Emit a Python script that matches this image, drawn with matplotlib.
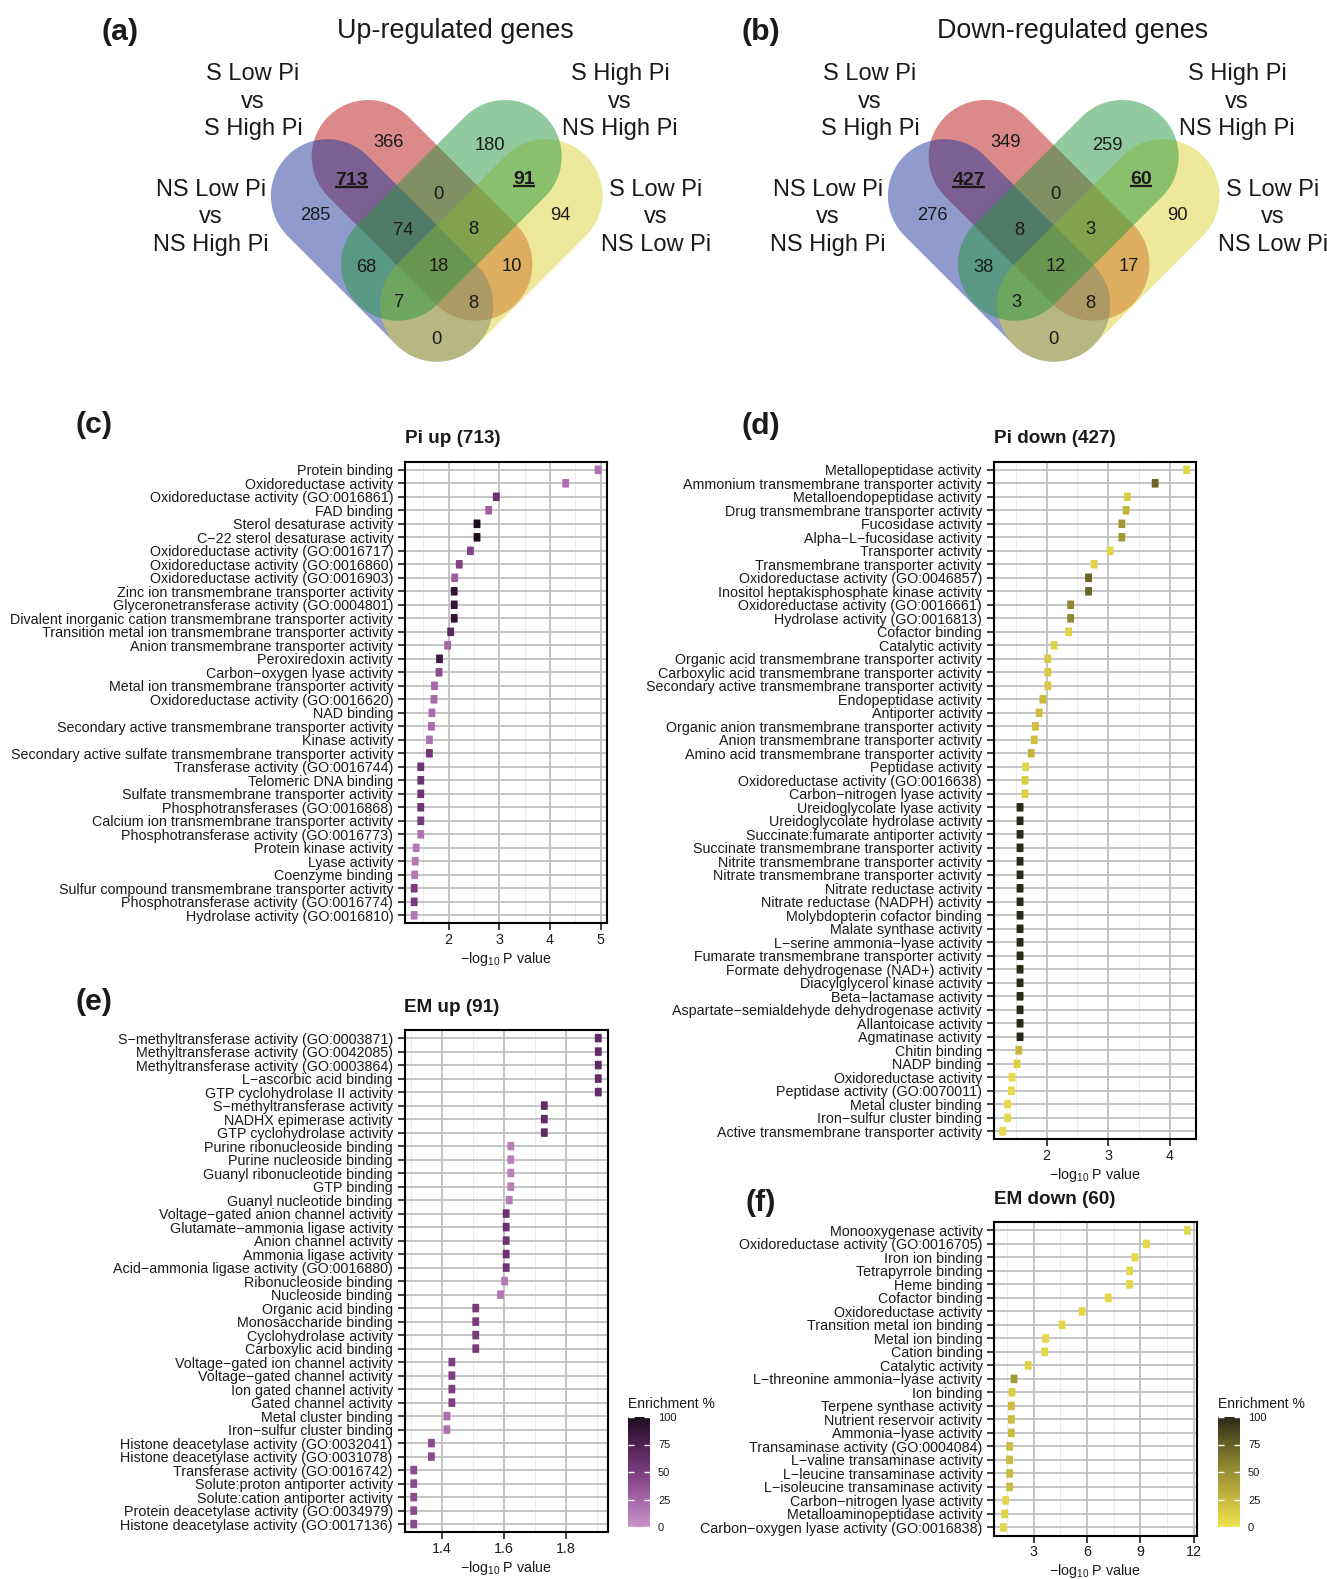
import numpy as np
import matplotlib
matplotlib.use("Agg")
import matplotlib.pyplot as plt
import matplotlib.cm as cm
from matplotlib.colors import LinearSegmentedColormap, Normalize
from matplotlib.patches import Polygon
from matplotlib.path import Path
from matplotlib.ticker import FixedLocator, FormatStrFormatter

plt.rcParams["font.family"] = ["Liberation Sans", "DejaVu Sans"]
plt.rcParams["mathtext.fontset"] = "custom"
plt.rcParams["mathtext.rm"] = "Liberation Sans"
plt.rcParams["mathtext.it"] = "Liberation Sans:italic"
plt.rcParams["mathtext.bf"] = "Liberation Sans:bold"

# ---------------------------------------------------------------- data
# Venn regions: B = NS Low vs NS High, R = S Low vs S High,
#               G = S High vs NS High, Y = S Low vs NS Low
venn_regions = ["R", "G", "B", "Y", "RB", "RG", "GY", "BRG", "RGY",
                "BG", "BRGY", "RY", "BGY", "BRY", "BY"]
venn_up_counts = [366, 180, 285, 94, 713, 0, 91, 74, 8, 68, 18, 10, 7, 8, 0]
venn_down_counts = [349, 259, 276, 90, 427, 0, 60, 8, 3, 38, 12, 17, 3, 8, 0]
venn_highlight = ["RB", "GY"]
set_name_tl = ["S Low Pi", "vs", "S High Pi"]
set_name_tr = ["S High Pi", "vs", "NS High Pi"]
set_name_l = ["NS Low Pi", "vs", "NS High Pi"]
set_name_r = ["S Low Pi", "vs", "NS Low Pi"]

pi_up_terms = [
    "Protein binding", "Oxidoreductase activity",
    "Oxidoreductase activity (GO:0016861)", "FAD binding",
    "Sterol desaturase activity", "C\u221222 sterol desaturase activity",
    "Oxidoreductase activity (GO:0016717)", "Oxidoreductase activity (GO:0016860)",
    "Oxidoreductase activity (GO:0016903)", "Zinc ion transmembrane transporter activity",
    "Glyceronetransferase activity (GO:0004801)",
    "Divalent inorganic cation transmembrane transporter activity",
    "Transition metal ion transmembrane transporter activity",
    "Anion transmembrane transporter activity", "Peroxiredoxin activity",
    "Carbon\u2212oxygen lyase activity", "Metal ion transmembrane transporter activity",
    "Oxidoreductase activity (GO:0016620)", "NAD binding",
    "Secondary active transmembrane transporter activity", "Kinase activity",
    "Secondary active sulfate transmembrane transporter activity",
    "Transferase activity (GO:0016744)", "Telomeric DNA binding",
    "Sulfate transmembrane transporter activity", "Phosphotransferases (GO:0016868)",
    "Calcium ion transmembrane transporter activity",
    "Phosphotransferase activity (GO:0016773)", "Protein kinase activity",
    "Lyase activity", "Coenzyme binding",
    "Sulfur compound transmembrane transporter activity",
    "Phosphotransferase activity (GO:0016774)", "Hydrolase activity (GO:0016810)"]
pi_up_logp = [4.95, 4.31, 2.94, 2.79, 2.56, 2.56, 2.43, 2.21, 2.12, 2.11, 2.11, 2.11,
              2.04, 1.98, 1.82, 1.81, 1.72, 1.71, 1.67, 1.66, 1.62, 1.62, 1.45, 1.45,
              1.45, 1.45, 1.45, 1.45, 1.36, 1.34, 1.33, 1.32, 1.32, 1.32]
pi_up_enrich = [18, 20, 60, 28, 100, 100, 45, 45, 30, 90, 90, 90, 68, 25, 82, 40,
                24, 24, 22, 22, 18, 55, 58, 58, 58, 58, 52, 18, 15, 15, 15, 50, 50, 15]

pi_down_terms = [
    "Metallopeptidase activity", "Ammonium transmembrane transporter activity",
    "Metalloendopeptidase activity", "Drug transmembrane transporter activity",
    "Fucosidase activity", "Alpha\u2212L\u2212fucosidase activity", "Transporter activity",
    "Transmembrane transporter activity", "Oxidoreductase activity (GO:0046857)",
    "Inositol heptakisphosphate kinase activity", "Oxidoreductase activity (GO:0016661)",
    "Hydrolase activity (GO:0016813)", "Cofactor binding", "Catalytic activity",
    "Organic acid transmembrane transporter activity",
    "Carboxylic acid transmembrane transporter activity",
    "Secondary active transmembrane transporter activity", "Endopeptidase activity",
    "Antiporter activity", "Organic anion transmembrane transporter activity",
    "Anion transmembrane transporter activity",
    "Amino acid transmembrane transporter activity", "Peptidase activity",
    "Oxidoreductase activity (GO:0016638)", "Carbon\u2212nitrogen lyase activity",
    "Ureidoglycolate lyase activity", "Ureidoglycolate hydrolase activity",
    "Succinate:fumarate antiporter activity",
    "Succinate transmembrane transporter activity",
    "Nitrite transmembrane transporter activity",
    "Nitrate transmembrane transporter activity", "Nitrate reductase activity",
    "Nitrate reductase (NADPH) activity", "Molybdopterin cofactor binding",
    "Malate synthase activity", "L\u2212serine ammonia\u2212lyase activity",
    "Fumarate transmembrane transporter activity",
    "Formate dehydrogenase (NAD+) activity", "Diacylglycerol kinase activity",
    "Beta\u2212lactamase activity", "Aspartate\u2212semialdehyde dehydrogenase activity",
    "Allantoicase activity", "Agmatinase activity", "Chitin binding", "NADP binding",
    "Oxidoreductase activity", "Peptidase activity (GO:0070011)",
    "Metal cluster binding", "Iron\u2212sulfur cluster binding",
    "Active transmembrane transporter activity"]
pi_down_logp = [4.27, 3.76, 3.31, 3.29, 3.22, 3.22, 3.03, 2.77, 2.68, 2.68, 2.39, 2.39,
                2.36, 2.12, 2.02, 2.02, 2.02, 1.94, 1.88, 1.82, 1.80, 1.75, 1.66, 1.65,
                1.65, 1.57, 1.57, 1.57, 1.57, 1.57, 1.57, 1.57, 1.57, 1.57, 1.57, 1.57,
                1.57, 1.57, 1.57, 1.57, 1.57, 1.57, 1.57, 1.55, 1.52, 1.44, 1.43, 1.37,
                1.37, 1.29]
pi_down_enrich = [8, 72, 12, 28, 45, 45, 8, 10, 72, 72, 55, 55, 10, 10, 15, 15, 15, 24,
                  22, 20, 20, 27, 8, 12, 12, 100, 100, 100, 100, 100, 100, 100, 100, 100,
                  100, 100, 100, 100, 100, 100, 100, 100, 100, 27, 12, 5, 5, 5, 5, 5]

em_up_terms = [
    "S\u2212methyltransferase activity (GO:0003871)",
    "Methyltransferase activity (GO:0042085)", "Methyltransferase activity (GO:0003864)",
    "L\u2212ascorbic acid binding", "GTP cyclohydrolase II activity",
    "S\u2212methyltransferase activity", "NADHX epimerase activity",
    "GTP cyclohydrolase activity", "Purine ribonucleoside binding",
    "Purine nucleoside binding", "Guanyl ribonucleotide binding", "GTP binding",
    "Guanyl nucleotide binding", "Voltage\u2212gated anion channel activity",
    "Glutamate\u2212ammonia ligase activity", "Anion channel activity",
    "Ammonia ligase activity", "Acid\u2212ammonia ligase activity (GO:0016880)",
    "Ribonucleoside binding", "Nucleoside binding", "Organic acid binding",
    "Monosaccharide binding", "Cyclohydrolase activity", "Carboxylic acid binding",
    "Voltage\u2212gated ion channel activity", "Voltage\u2212gated channel activity",
    "Ion gated channel activity", "Gated channel activity", "Metal cluster binding",
    "Iron\u2212sulfur cluster binding", "Histone deacetylase activity (GO:0032041)",
    "Histone deacetylase activity (GO:0031078)", "Transferase activity (GO:0016742)",
    "Solute:proton antiporter activity", "Solute:cation antiporter activity",
    "Protein deacetylase activity (GO:0034979)",
    "Histone deacetylase activity (GO:0017136)"]
em_up_logp = [1.905, 1.905, 1.905, 1.905, 1.905, 1.731, 1.731, 1.731, 1.623, 1.623,
              1.623, 1.623, 1.618, 1.608, 1.608, 1.608, 1.608, 1.608, 1.603, 1.590,
              1.510, 1.510, 1.510, 1.510, 1.433, 1.433, 1.433, 1.433, 1.417, 1.417,
              1.367, 1.367, 1.310, 1.310, 1.310, 1.310, 1.310]
em_up_enrich = [65, 65, 65, 65, 65, 65, 65, 65, 12, 12, 12, 12, 14, 58, 58, 58, 58, 58,
                14, 16, 52, 52, 52, 52, 48, 48, 48, 48, 20, 20, 42, 42, 40, 40, 40, 40, 40]

em_down_terms = [
    "Monooxygenase activity", "Oxidoreductase activity (GO:0016705)",
    "Iron ion binding", "Tetrapyrrole binding", "Heme binding", "Cofactor binding",
    "Oxidoreductase activity", "Transition metal ion binding", "Metal ion binding",
    "Cation binding", "Catalytic activity", "L\u2212threonine ammonia\u2212lyase activity",
    "Ion binding", "Terpene synthase activity", "Nutrient reservoir activity",
    "Ammonia\u2212lyase activity", "Transaminase activity (GO:0004084)",
    "L\u2212valine transaminase activity", "L\u2212leucine transaminase activity",
    "L\u2212isoleucine transaminase activity", "Carbon\u2212nitrogen lyase activity",
    "Metalloaminopeptidase activity", "Carbon\u2212oxygen lyase activity (GO:0016838)"]
em_down_logp = [11.65, 9.35, 8.7, 8.4, 8.4, 7.2, 5.73, 4.6, 3.68, 3.63, 2.7, 1.9, 1.78,
                1.75, 1.75, 1.75, 1.65, 1.65, 1.65, 1.65, 1.43, 1.38, 1.3]
em_down_enrich = [6, 6, 6, 6, 6, 6, 6, 6, 6, 6, 10, 45, 12, 22, 22, 22, 22, 22, 22, 22,
                  8, 8, 8]

# ---------------------------------------------------------------- figure
W, H = 1327, 1579
fig = plt.figure(figsize=(W / 100, H / 100), dpi=100)

page = fig.add_axes([0, 0, 1, 1])
page.set_xlim(0, W)
page.set_ylim(H, 0)
page.axis("off")

TXT = "#1a1a1a"


def capsule(p1, p2, r, n=90):
    p1 = np.asarray(p1, float)
    p2 = np.asarray(p2, float)
    d = p2 - p1
    ang = np.arctan2(d[1], d[0])
    t2 = np.linspace(ang - np.pi / 2, ang + np.pi / 2, n)
    t1 = np.linspace(ang + np.pi / 2, ang + 3 * np.pi / 2, n)
    a2 = p2 + r * np.column_stack([np.cos(t2), np.sin(t2)])
    a1 = p1 + r * np.column_stack([np.cos(t1), np.sin(t1)])
    return np.vstack([a2, a1])


venn_fill = {"R": "#B91515", "B": "#1F399B", "Y": "#DFD337", "G": "#279741"}
cap_r = 56.6
caps = {"B": ((327.5, 195.8), (436.7, 305.0)),
        "R": ((368.3, 156.6), (475.8, 264.1)),
        "G": ((505.1, 156.6), (397.6, 264.1)),
        "Y": ((545.9, 195.8), (436.7, 305.0))}
region_xy = {"R": (388.3, 140.0), "G": (490.0, 143.3), "B": (315.0, 213.3),
             "Y": (560.0, 213.3), "RB": (351.7, 178.3), "RG": (438.3, 192.3),
             "GY": (524.3, 177.7), "BRG": (402.7, 228.3), "RGY": (473.3, 226.7),
             "BG": (366.7, 265.0), "BRGY": (438.3, 264.0), "RY": (511.7, 264.0),
             "BGY": (399.3, 300.0), "BRY": (473.3, 301.0), "BY": (436.7, 336.7)}

renderer = fig.canvas.get_renderer()


def draw_venn(dx, counts, title):
    for key in ["R", "B", "Y", "G"]:
        p1, p2 = caps[key]
        verts = capsule((p1[0] + dx, p1[1]), (p2[0] + dx, p2[1]), cap_r)
        page.add_patch(Polygon(verts, closed=True, facecolor=venn_fill[key],
                               alpha=0.5, edgecolor="none", zorder=1))
    for reg, val in zip(venn_regions, counts):
        x, y = region_xy[reg]
        bold = reg in venn_highlight
        t = page.text(x + dx, y + 6.8, str(val), ha="center", va="baseline",
                      fontsize=14 if bold else 13.2,
                      fontweight="bold" if bold else "normal", color=TXT, zorder=3)
        if bold:
            bb = t.get_window_extent(renderer=renderer)
            inv = page.transData.inverted()
            x0 = inv.transform((bb.x0, bb.y0))[0]
            x1 = inv.transform((bb.x1, bb.y0))[0]
            page.plot([x0, x1], [y + 8.6, y + 8.6], color=TXT, lw=1.6,
                      solid_capstyle="butt", zorder=3)
    groups = [(set_name_tl, 253.0, [80.2, 107.8, 135.4]),
              (set_name_tr, 620.0, [80.2, 107.8, 135.4]),
              (set_name_l, 211.0, [195.8, 223.4, 251.0]),
              (set_name_r, 656.0, [195.8, 223.4, 251.0])]
    for lines, cx, ys in groups:
        for s, yb in zip(lines, ys):
            page.text(cx + dx, yb, s, ha="center", va="baseline", fontsize=17,
                      color=TXT, zorder=3)
    page.text(455.4 + dx, 38.5, title, ha="center", va="baseline", fontsize=19.4,
              color=TXT)


draw_venn(0.0, venn_up_counts, "Up-regulated genes")
draw_venn(617.0, venn_down_counts, "Down-regulated genes")

for letter, (x, y) in {"(a)": (120.0, 31.7), "(b)": (761.0, 31.7),
                       "(c)": (93.7, 425.0), "(d)": (761.0, 426.0),
                       "(e)": (93.7, 1002.5), "(f)": (760.7, 1203.0)}.items():
    page.text(x, y, letter, ha="center", va="center", fontsize=21.7,
              fontweight="bold", color=TXT)

# ---------------------------------------------------------------- GO panels
purple = LinearSegmentedColormap.from_list(
    "enrich_purple", ["#CB95C8", "#A566A8", "#7B3C7F", "#4F2152", "#1F0C20"])
olive = LinearSegmentedColormap.from_list(
    "enrich_olive", ["#EDE24E", "#C7B83F", "#999033", "#676027", "#2B2918"])
norm = Normalize(0, 100)

# slightly tall, softly rounded square marker
_w, _h, _rr = 0.40, 0.5, 0.08
_th = np.linspace(0, np.pi / 2, 6)
_pts = []
for cx, cy, a0 in [(_w - _rr, _h - _rr, 0), (-_w + _rr, _h - _rr, np.pi / 2),
                   (-_w + _rr, -_h + _rr, np.pi), (_w - _rr, -_h + _rr, 1.5 * np.pi)]:
    for th in _th + a0:
        _pts.append((cx + _rr * np.cos(th), cy + _rr * np.sin(th)))
_pts.append(_pts[0])
box_marker = Path(np.array(_pts), closed=True)

xlabel = r"$\mathregular{-log_{10}}$ P value"


def go_panel(box, title, terms, logp, enrich, cmap, major, minor):
    l, t, r, b = box
    ax = fig.add_axes([l / W, 1 - b / H, (r - l) / W, (b - t) / H])
    ax.set_axisbelow(True)
    ax.scatter(logp, terms, c=enrich, cmap=cmap, norm=norm, marker=box_marker,
               s=38, linewidths=0, zorder=3)
    n = len(terms)
    ax.set_ylim(n - 0.4, -0.6)
    lo, hi = min(logp), max(logp)
    pad = 0.05 * (hi - lo)
    ax.set_xlim(lo - pad, hi + pad)
    ax.xaxis.set_major_locator(FixedLocator(major))
    ax.xaxis.set_minor_locator(FixedLocator(minor))
    ax.xaxis.set_major_formatter(FormatStrFormatter("%g"))
    ax.grid(True, which="major", color="#BEBEBE", lw=1.25)
    ax.grid(True, which="minor", axis="x", color="#EBEBEB", lw=0.8)
    ax.tick_params(which="minor", length=0)
    ax.tick_params(which="major", length=4.8, width=1.3, color="#333333",
                   labelsize=10.3, labelcolor=TXT)
    ax.tick_params(axis="y", pad=3.6)
    ax.tick_params(axis="x", pad=2.3)
    for sp in ax.spines.values():
        sp.set_linewidth(1.5)
        sp.set_color("black")
    ax.annotate(title, xy=(0, 1), xycoords="axes fraction", xytext=(0, 23),
                textcoords="offset pixels", ha="left", va="center",
                fontsize=13.6, fontweight="bold", color=TXT)
    ax.annotate(xlabel, xy=(0.5, 0), xycoords="axes fraction", xytext=(0, -36),
                textcoords="offset pixels", ha="center", va="center",
                fontsize=10.3, color=TXT)
    return ax


go_panel((405.0, 461.7, 607.3, 923.4), "Pi up (713)", pi_up_terms, pi_up_logp,
         pi_up_enrich, purple, [2, 3, 4, 5], [1.5, 2.5, 3.5, 4.5])
go_panel((993.6, 461.7, 1195.8, 1139.4), "Pi down (427)", pi_down_terms,
         pi_down_logp, pi_down_enrich, olive, [2, 3, 4], [1.5, 2.5, 3.5])
go_panel((404.5, 1030.0, 607.5, 1532.2), "EM up (91)", em_up_terms, em_up_logp,
         em_up_enrich, purple, [1.4, 1.6, 1.8], [1.3, 1.5, 1.7, 1.9])
go_panel((994.2, 1222.3, 1196.5, 1535.5), "EM down (60)", em_down_terms,
         em_down_logp, em_down_enrich, olive, [3, 6, 9, 12], [1.5, 4.5, 7.5, 10.5])


def enrichment_bar(box, cmap):
    l, t, r, b = box
    cax = fig.add_axes([l / W, 1 - b / H, (r - l) / W, (b - t) / H])
    cb = fig.colorbar(cm.ScalarMappable(norm=norm, cmap=cmap), cax=cax,
                      ticks=[0, 25, 50, 75, 100])
    cb.outline.set_visible(False)
    cax.tick_params(direction="in", length=4.5, width=1.0, color="white",
                    left=True, right=True, labelleft=False, labelright=True,
                    labelsize=8, pad=5.8, labelcolor=TXT)
    page.text(l, t - 13, "Enrichment %", ha="left", va="center", fontsize=10,
              color=TXT)


enrichment_bar((628.3, 1417.0, 650.0, 1527.0), purple)
enrichment_bar((1218.3, 1417.0, 1240.0, 1527.0), olive)

fig.savefig("out.png", dpi=100)
